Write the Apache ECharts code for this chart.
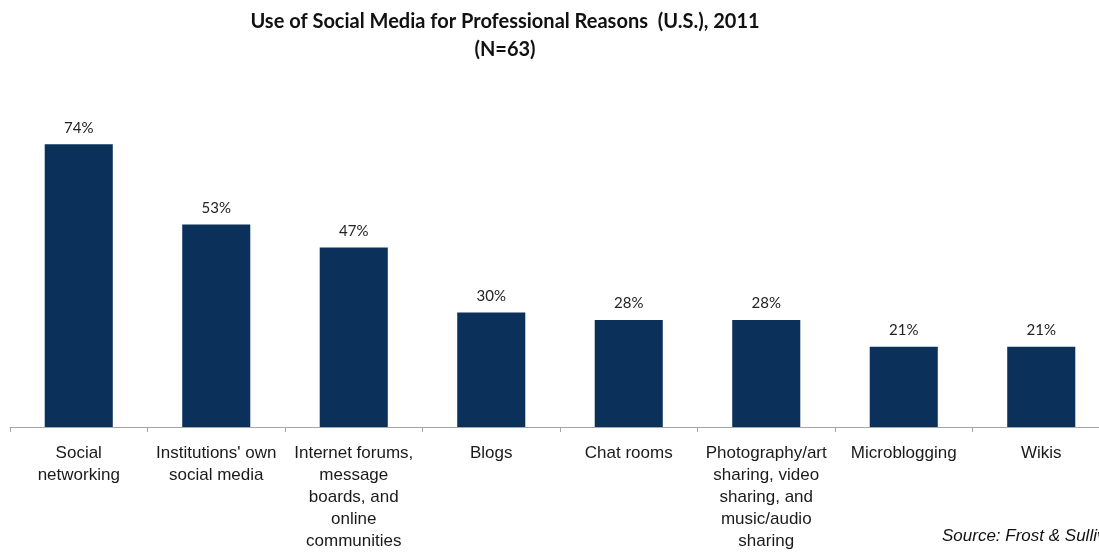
<!DOCTYPE html>
<html>
<head>
<meta charset="utf-8">
<script src="https://cdn.jsdelivr.net/npm/echarts@6/dist/echarts.min.js"></script>
<style>
    html, body { margin: 0; padding: 0; background: #fff; overflow: hidden; }
    /* the plot runs a little past the right edge in the original, so the canvas is wider than the window */
    #chart { width: 1110px; height: 552px; }
</style>
</head>
<body>
<div id="chart"></div>
<script>
    // categories and shares (%)
    var categories = [
        'Social\nnetworking',
        'Institutions\' own\nsocial media',
        'Internet forums,\nmessage\nboards, and\nonline\ncommunities',
        'Blogs',
        'Chat rooms',
        'Photography/art\nsharing, video\nsharing, and\nmusic/audio\nsharing',
        'Microblogging',
        'Wikis'
    ];
    var shares = [74, 53, 47, 30, 28, 28, 21, 21];

    var titleLines = ['Use of Social Media for Professional Reasons  (U.S.), 2011', '(N=63)'];
    var sourceNote = 'Source: Frost & Sullivan';

    var myChart = echarts.init(document.getElementById('chart'));
    var option = {
        backgroundColor: '#ffffff',
        animation: false,
        title: {
            text: titleLines.join('\n'),
            left: 500,
            textAlign: 'center',
            top: 3,
            textStyle: {
                fontFamily: 'Lato',
                fontWeight: 'bold',
                fontSize: 20,
                lineHeight: 28,
                color: '#111'
            }
        },
        grid: {
            left: 10,
            right: 0,
            top: 45,
            bottom: 125
        },
        xAxis: {
            type: 'category',
            data: categories,
            axisLine: { lineStyle: { color: '#a6a6a6', width: 1 } },
            axisTick: { show: true, length: 5, lineStyle: { color: '#a6a6a6' } },
            axisLabel: {
                interval: 0,
                margin: 15,
                fontFamily: 'Liberation Sans',
                fontSize: 17,
                lineHeight: 22,
                color: '#1a1a1a'
            }
        },
        yAxis: {
            type: 'value',
            min: 0,
            max: 100,
            show: false,
            splitLine: { show: false }
        },
        series: [{
            type: 'bar',
            data: shares,
            barWidth: '49.5%',
            itemStyle: { color: '#0b315a' },
            label: {
                show: true,
                position: 'top',
                distance: 9,
                formatter: '{c}%',
                fontFamily: 'Lato',
                fontSize: 15,
                color: '#222'
            }
        }],
        graphic: [{
            type: 'text',
            left: 942,
            top: 528,
            style: {
                text: sourceNote,
                font: 'italic 17px "Liberation Sans"',
                fill: '#111'
            }
        }]
    };
    myChart.setOption(option, true);
</script>
</body>
</html>
